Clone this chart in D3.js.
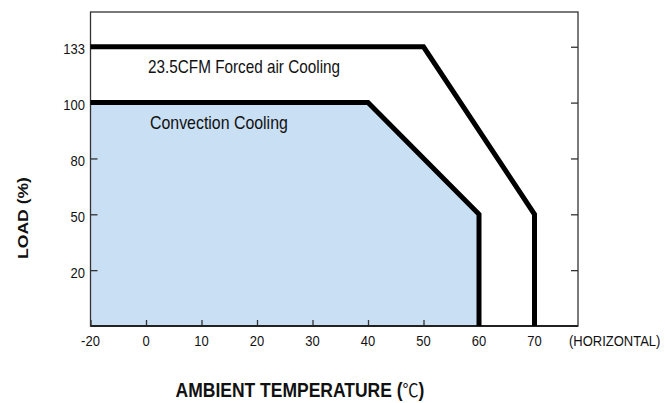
<!DOCTYPE html>
<html>
<head>
<meta charset="utf-8">
<script src="https://cdn.jsdelivr.net/npm/d3@7"></script>
<style>
  html, body { margin: 0; padding: 0; background: #fff; }
  svg { display: block; }
  text { font-family: "Liberation Sans", Arial, sans-serif; fill: #111; }
</style>
</head>
<body>
<div id="chart"></div>
<script>
// ---- data ----
const xTicks = [-20, 0, 10, 20, 30, 40, 50, 60, 70];
const yTicks = [20, 50, 80, 100, 133];
const forcedTemp = [-20, 50, 70, 70];
const forcedLoad = [133, 133, 50, 0];
const convTemp = [-20, 40, 60, 60];
const convLoad = [100, 100, 50, 0];
const forcedLabel = "23.5CFM Forced air Cooling";
const convLabel = "Convection Cooling";
const xTitle = "AMBIENT TEMPERATURE (";
const xTitleUnit = "℃";
const xTitleEnd = ")";
const yTitle = "LOAD (%)";
const xNote = "(HORIZONTAL)";

(function () {
// ---- layout ----
const W = 665, H = 403;
const pL = 90.5, pR = 578, pT = 12, pB = 326;
const sy = 1.17; // vertical stretch of the original lettering

const svg = d3.select("#chart").append("svg").attr("width", W).attr("height", H);

// piecewise (non-uniform) axes as drawn in the original
const xStep = 55.5;
const x = d3.scaleLinear()
  .domain([-20, 0, 70])
  .range([pL, pL + xStep, pL + 8 * xStep]);
const yStep = 55.85;
const yDom = [0].concat(yTicks);
const y = d3.scaleLinear()
  .domain(yDom)
  .range(yDom.map((d, i) => pB - i * yStep));

// fill under convection curve
const area = d3.area().x((d, i) => x(convTemp[i])).y0(pB).y1((d, i) => y(convLoad[i]));
svg.append("path").datum(convTemp).attr("d", area).attr("fill", "#c9dff3");

// frame
svg.append("rect").attr("x", pL).attr("y", pT).attr("width", pR - pL).attr("height", pB - pT)
  .attr("fill", "none").attr("stroke", "#333").attr("stroke-width", 1.3);

// axes (inner ticks)
const gx = svg.append("g").attr("transform", `translate(0,${pB})`)
  .call(d3.axisBottom(x).tickValues(xTicks).tickSize(-6).tickFormat(""));
const gyl = svg.append("g").attr("transform", `translate(${pL},0)`)
  .call(d3.axisLeft(y).tickValues(yTicks).tickSize(-7).tickFormat(""));
const gyr = svg.append("g").attr("transform", `translate(${pR},0)`)
  .call(d3.axisRight(y).tickValues(yTicks).tickSize(-7).tickFormat(""));
[gx, gyl, gyr].forEach(g => {
  g.select(".domain").remove();
  g.selectAll("line").attr("stroke", "#333").attr("stroke-width", 1.3);
});
svg.append("line").attr("x1", pL).attr("x2", pR).attr("y1", pB).attr("y2", pB)
  .attr("stroke", "#222").attr("stroke-width", 2);

// curves
const line = (xs, ys) => d3.line().x((d, i) => x(xs[i])).y((d, i) => y(ys[i]));
svg.append("path").datum(forcedTemp).attr("d", line(forcedTemp, forcedLoad))
  .attr("fill", "none").attr("stroke", "#000").attr("stroke-width", 5).attr("stroke-linejoin", "miter");
svg.append("path").datum(convTemp).attr("d", line(convTemp, convLoad))
  .attr("fill", "none").attr("stroke", "#000").attr("stroke-width", 5).attr("stroke-linejoin", "miter");

// helper for stretched text
function label(px, py, str, opts) {
  const o = Object.assign({ size: 13, anchor: "start", weight: "normal", rot: 0 }, opts || {});
  const tr = o.rot ? `translate(${px},${py}) rotate(${o.rot}) scale(${sy},1)` : `translate(${px},${py}) scale(1,${sy})`;
  return svg.append("text").attr("transform", tr)
    .attr("font-size", o.size).attr("text-anchor", o.anchor).attr("font-weight", o.weight)
    .text(str);
}

// tick labels
xTicks.forEach(t => label(x(t), 346, String(t), { anchor: "middle" }));
yTicks.forEach(t => label(85, y(t) + 7.6, String(t), { anchor: "end" }));
label(569, 346, xNote);

// series labels
label(148, 73.3, forcedLabel, { size: 15.3 });
label(150, 129, convLabel, { size: 15.9 });

// axis titles
const t = label(300, 396.5, xTitle, { size: 17.5, anchor: "middle", weight: "bold" });
t.append("tspan").attr("font-weight", "normal").attr("font-family", "'Noto Sans CJK SC', 'DejaVu Sans', sans-serif")
  .attr("font-size", 16).text(xTitleUnit);
t.append("tspan").text(xTitleEnd);
label(28, 218, yTitle, { size: 15, anchor: "middle", weight: "bold", rot: -90 });
})();
</script>
</body>
</html>
